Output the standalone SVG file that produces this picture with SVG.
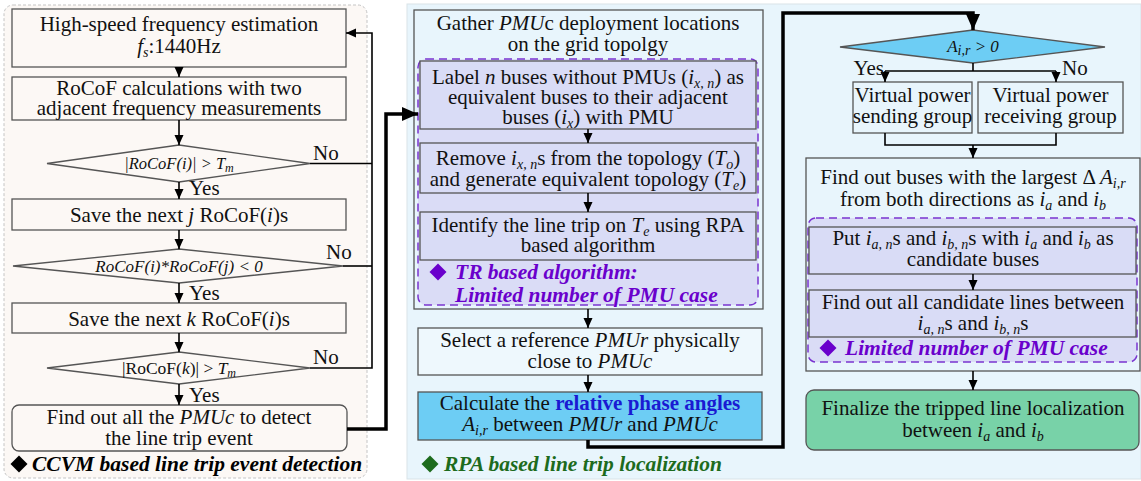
<svg xmlns="http://www.w3.org/2000/svg" width="1141" height="481" viewBox="0 0 1141 481">
  <defs>
    <style>
      .t { font-family: "Liberation Serif", "Times New Roman", serif; font-size: 21px; fill: #111; text-anchor: middle; }
      .d { font-size: 17px; font-style: italic; }
      .d1 { font-size: 16.5px; font-style: italic; }
      .d3 { font-size: 17.5px; }
      .i { font-style: italic; }
      .s { font-size: 14px; }
      .ss { font-size: 12px; }
      .yn { font-family: "Liberation Serif", "Times New Roman", serif; font-size: 21px; fill: #111; }
      .lbl { font-family: "Liberation Serif", "Times New Roman", serif; font-size: 21.5px; font-weight: bold; font-style: italic; }
      .box { stroke: #555; stroke-width: 1.3; }
      .lf { fill: #fcf8f5; }
      .lb { fill: #e8f5fc; }
      .lav { fill: #d9dcf6; }
      .sky { fill: #6dcdf4; }
      .dash { fill: #dadcf6; stroke: #7a35d0; stroke-width: 1.5; stroke-dasharray: 8 5; }
      .ln { fill: none; stroke: #000; stroke-width: 1.6; }
      .thick { fill: none; stroke: #000; stroke-width: 3.5; }
    </style>
    <marker id="ah" viewBox="0 0 10 10" refX="10" refY="5" markerWidth="10" markerHeight="10" markerUnits="userSpaceOnUse" orient="auto">
      <path d="M0,0.5 L10,5 L0,9.5 z" fill="#000"/>
    </marker>
    <marker id="ahb" viewBox="0 0 16 16" refX="16" refY="8" markerWidth="16" markerHeight="16" markerUnits="userSpaceOnUse" orient="auto">
      <path d="M0,1 L16,8 L0,15 z" fill="#000"/>
    </marker>
    <!-- bullet diamond used by the section captions -->
    <path id="bullet" d="M0,-8.5 L8.5,0 L0,8.5 L-8.5,0 z"/>
  </defs>

  <!-- panels -->
  <g id="panel-ccvm">
    <rect x="4" y="5" width="363" height="473" rx="9" fill="#fcf8f5" stroke="#c4c4c4" stroke-width="1" stroke-dasharray="3 2"/>
    <use href="#bullet" x="19" y="464" fill="#000"/>
    <text class="lbl" x="32" y="471" fill="#000">CCVM based line trip event detection</text>
  </g>
  <g id="panel-rpa">
    <rect x="407" y="4" width="734" height="475" fill="#e8f5fc" stroke="#d9e3e8" stroke-width="1"/>
    <use href="#bullet" x="430" y="464" fill="#1d6b1d"/>
    <text class="lbl" x="444" y="471" fill="#1d6b1d">RPA based line trip localization</text>
  </g>

  <!-- left column: CCVM detection -->
  <g id="n-freq">
    <rect class="box lf" x="12" y="9" width="334" height="58"/>
    <text class="t" x="179" y="31">High-speed frequency estimation</text>
    <text class="t" x="179" y="53"><tspan class="i">f</tspan><tspan class="s i" dy="4">s</tspan><tspan dy="-4">:1440Hz</tspan></text>
  </g>
  <g id="n-rocof">
    <rect class="box lf" x="12" y="77" width="334" height="43"/>
    <text class="t" x="179" y="95">RoCoF calculations with two</text>
    <text class="t" x="179" y="115">adjacent frequency measurements</text>
  </g>
  <g id="n-dec1">
    <polygon class="box lf" points="47,163.5 179,145 310,163.5 179,182"/>
    <text class="t d1" x="179" y="169">|RoCoF(i)| &gt; T<tspan class="ss" dy="3">m</tspan></text>
  </g>
  <g id="n-savej">
    <rect class="box lf" x="12" y="199" width="334" height="31"/>
    <text class="t" x="179" y="222">Save the next <tspan class="i">j</tspan> RoCoF(<tspan class="i">i</tspan>)s</text>
  </g>
  <g id="n-dec2">
    <polygon class="box lf" points="13,266 179,249 343,266 179,283"/>
    <text class="t d" x="179" y="272">RoCoF(i)*RoCoF(j) &lt; 0</text>
  </g>
  <g id="n-savek">
    <rect class="box lf" x="12" y="303" width="334" height="30"/>
    <text class="t" x="179" y="326">Save the next <tspan class="i">k</tspan> RoCoF(<tspan class="i">i</tspan>)s</text>
  </g>
  <g id="n-dec3">
    <polygon class="box lf" points="47,368 179,352 310,368 179,384"/>
    <text class="t d3" x="179" y="374">|RoCoF(<tspan class="i">k</tspan>)| &gt; <tspan class="i">T</tspan><tspan class="ss i" dy="3">m</tspan></text>
  </g>
  <g id="n-pmuc">
    <rect class="box lf" x="12" y="405" width="335" height="46" rx="7"/>
    <text class="t" x="179" y="424">Find out all the <tspan class="i">PMUc</tspan> to detect</text>
    <text class="t" x="179" y="445">the line trip event</text>
  </g>

  <!-- middle column: grid topology / reference PMU -->
  <g id="n-gather">
    <rect class="box lb" x="414" y="10" width="349" height="299"/>
    <text class="t" x="588" y="30">Gather <tspan class="i">PMU</tspan>c deployment locations</text>
    <text class="t" x="588" y="51">on the grid topolgy</text>
  </g>
  <g id="n-tr">
    <rect class="dash" x="418" y="59" width="340" height="246" rx="8"/>
    <use href="#bullet" x="438" y="272" fill="#6a00cc"/>
    <text class="lbl" x="455" y="279" fill="#6a00cc">TR based algorithm:</text>
    <text class="lbl" x="455" y="302" fill="#6a00cc">Limited number of PMU case</text>
  </g>
  <g id="n-label">
    <rect class="box lav" x="420" y="61" width="336" height="68"/>
    <text class="t" x="588" y="84">Label <tspan class="i">n</tspan> buses without PMUs (<tspan class="i">i</tspan><tspan class="s i" dy="4">x, n</tspan><tspan dy="-4">) as</tspan></text>
    <text class="t" x="588" y="104">equivalent buses to their adjacent</text>
    <text class="t" x="588" y="124">buses (<tspan class="i">i</tspan><tspan class="s i" dy="4">x</tspan><tspan dy="-4">) with PMU</tspan></text>
  </g>
  <g id="n-remove">
    <rect class="box lav" x="420" y="143" width="336" height="50"/>
    <text class="t" x="588" y="165">Remove <tspan class="i">i</tspan><tspan class="s i" dy="4">x, n</tspan><tspan dy="-4">s from the topology (</tspan><tspan class="i">T</tspan><tspan class="s i" dy="4">o</tspan><tspan dy="-4">)</tspan></text>
    <text class="t" x="588" y="186">and generate equivalent topology (<tspan class="i">T</tspan><tspan class="s i" dy="4">e</tspan><tspan dy="-4">)</tspan></text>
  </g>
  <g id="n-identify">
    <rect class="box lav" x="420" y="212" width="336" height="48"/>
    <text class="t" x="588" y="232">Identify the line trip on <tspan class="i">T</tspan><tspan class="s i" dy="4">e</tspan><tspan dy="-4"> using RPA</tspan></text>
    <text class="t" x="588" y="252">based algorithm</text>
  </g>
  <g id="n-ref">
    <rect class="box" fill="#eef8fd" x="418" y="328" width="344" height="47"/>
    <text class="t" x="590" y="347">Select a reference <tspan class="i">PMUr</tspan> physically</text>
    <text class="t" x="590" y="368">close to <tspan class="i">PMUc</tspan></text>
  </g>
  <g id="n-calc">
    <rect class="box sky" x="418" y="392" width="344" height="48"/>
    <text class="t" x="590" y="410">Calculate the <tspan font-weight="bold" fill="#1a1ad2">relative phase angles</tspan></text>
    <text class="t" x="590" y="431"><tspan class="i">A</tspan><tspan class="s i" dy="4">i,r</tspan><tspan dy="-4"> between </tspan><tspan class="i">PMUr</tspan> and <tspan class="i">PMUc</tspan></text>
  </g>

  <!-- right column: localization -->
  <g id="n-sign">
    <polygon class="box sky" points="840,47 973,30 1105,47 973,63"/>
    <text class="t d" x="973" y="52">A<tspan class="s" dy="3">i,r</tspan><tspan dy="-3"> &gt; 0</tspan></text>
  </g>
  <g id="n-send">
    <rect class="box lb" x="853" y="82" width="119" height="51"/>
    <text class="t" x="912.5" y="102">Virtual power</text>
    <text class="t" x="912.5" y="123">sending group</text>
  </g>
  <g id="n-recv">
    <rect class="box lb" x="978" y="82" width="145" height="51"/>
    <text class="t" x="1050.5" y="102">Virtual power</text>
    <text class="t" x="1050.5" y="123">receiving group</text>
  </g>
  <g id="n-largest">
    <rect class="box lb" x="806" y="158" width="334" height="213"/>
    <text class="t" x="973" y="184">Find out buses with the largest  Δ <tspan class="i">A</tspan><tspan class="s i" dy="4">i,r</tspan></text>
    <text class="t" x="973" y="206">from both directions as <tspan class="i">i</tspan><tspan class="s i" dy="4">a</tspan><tspan dy="-4"> and </tspan><tspan class="i">i</tspan><tspan class="s i" dy="4">b</tspan></text>
  </g>
  <g id="n-limited">
    <rect class="dash" x="808" y="218" width="329" height="144" rx="8"/>
    <use href="#bullet" x="828" y="348" fill="#6a00cc"/>
    <text class="lbl" x="845" y="355" fill="#6a00cc">Limited number of PMU case</text>
  </g>
  <g id="n-candbus">
    <rect class="box lav" x="809" y="227" width="327" height="47"/>
    <text class="t" x="973" y="245">Put <tspan class="i">i</tspan><tspan class="s i" dy="4">a, n</tspan><tspan dy="-4">s and </tspan><tspan class="i">i</tspan><tspan class="s i" dy="4">b, n</tspan><tspan dy="-4">s with </tspan><tspan class="i">i</tspan><tspan class="s i" dy="4">a</tspan><tspan dy="-4"> and </tspan><tspan class="i">i</tspan><tspan class="s i" dy="4">b</tspan><tspan dy="-4"> as</tspan></text>
    <text class="t" x="973" y="266">candidate buses</text>
  </g>
  <g id="n-candline">
    <rect class="box lav" x="809" y="290" width="327" height="47"/>
    <text class="t" x="973" y="309">Find out all candidate lines between</text>
    <text class="t" x="973" y="330"><tspan class="i">i</tspan><tspan class="s i" dy="4">a, n</tspan><tspan dy="-4">s and </tspan><tspan class="i">i</tspan><tspan class="s i" dy="4">b, n</tspan><tspan dy="-4">s</tspan></text>
  </g>
  <g id="n-final">
    <rect class="box" fill="#78d2a8" x="806" y="390" width="333" height="60" rx="8"/>
    <text class="t" x="973" y="415">Finalize the tripped line localization</text>
    <text class="t" x="973" y="437">between <tspan class="i">i</tspan><tspan class="s i" dy="4">a</tspan><tspan dy="-4"> and </tspan><tspan class="i">i</tspan><tspan class="s i" dy="4">b</tspan></text>
  </g>

  <!-- connectors -->
  <g id="connectors">
    <line class="ln" x1="179" y1="67" x2="179" y2="77" marker-end="url(#ah)"/>
    <line class="ln" x1="179" y1="120" x2="179" y2="145" marker-end="url(#ah)"/>
    <line class="ln" x1="179" y1="182" x2="179" y2="199" marker-end="url(#ah)"/>
    <line class="ln" x1="179" y1="230" x2="179" y2="249" marker-end="url(#ah)"/>
    <line class="ln" x1="179" y1="283" x2="179" y2="303" marker-end="url(#ah)"/>
    <line class="ln" x1="179" y1="333" x2="179" y2="352" marker-end="url(#ah)"/>
    <line class="ln" x1="179" y1="384" x2="179" y2="405" marker-end="url(#ah)"/>
    <text class="yn" x="189" y="195">Yes</text>
    <text class="yn" x="189" y="300">Yes</text>
    <text class="yn" x="189" y="402">Yes</text>
    <!-- "No" branches feed back to the frequency estimation -->
    <polyline class="ln" points="310,163.5 372,163.5"/>
    <polyline class="ln" points="343,266 372,266"/>
    <polyline class="ln" points="310,368 372,368 372,33 346,33" marker-end="url(#ah)"/>
    <text class="yn" x="313" y="160">No</text>
    <text class="yn" x="326" y="259">No</text>
    <text class="yn" x="313" y="364">No</text>
    <!-- detection to localization -->
    <polyline class="thick" points="347,429 386,429 386,114 418,114" marker-end="url(#ahb)"/>
    <line class="ln" x1="588" y1="129" x2="588" y2="143" marker-end="url(#ah)"/>
    <line class="ln" x1="588" y1="193" x2="588" y2="212" marker-end="url(#ah)"/>
    <line class="ln" x1="588" y1="309" x2="588" y2="328" marker-end="url(#ah)"/>
    <line class="ln" x1="588" y1="375" x2="588" y2="392" marker-end="url(#ah)"/>
    <polyline class="thick" points="588,440 588,447 783,447 783,13 973,13 973,30" marker-end="url(#ahb)"/>
    <!-- sign split -->
    <polyline class="ln" points="973,63 973,71"/>
    <polyline class="ln" points="885,71 1056,71"/>
    <line class="ln" x1="885" y1="71" x2="885" y2="82" marker-end="url(#ah)"/>
    <line class="ln" x1="1056" y1="71" x2="1056" y2="82" marker-end="url(#ah)"/>
    <text class="yn" x="884" y="75" text-anchor="end">Yes</text>
    <text class="yn" x="1062" y="75">No</text>
    <polyline class="ln" points="885,133 885,145 1056,145 1056,133"/>
    <line class="ln" x1="973" y1="145" x2="973" y2="158" marker-end="url(#ah)"/>
    <line class="ln" x1="973" y1="274" x2="973" y2="290" marker-end="url(#ah)"/>
    <line class="ln" x1="973" y1="371" x2="973" y2="390" marker-end="url(#ah)"/>
  </g>
</svg>
